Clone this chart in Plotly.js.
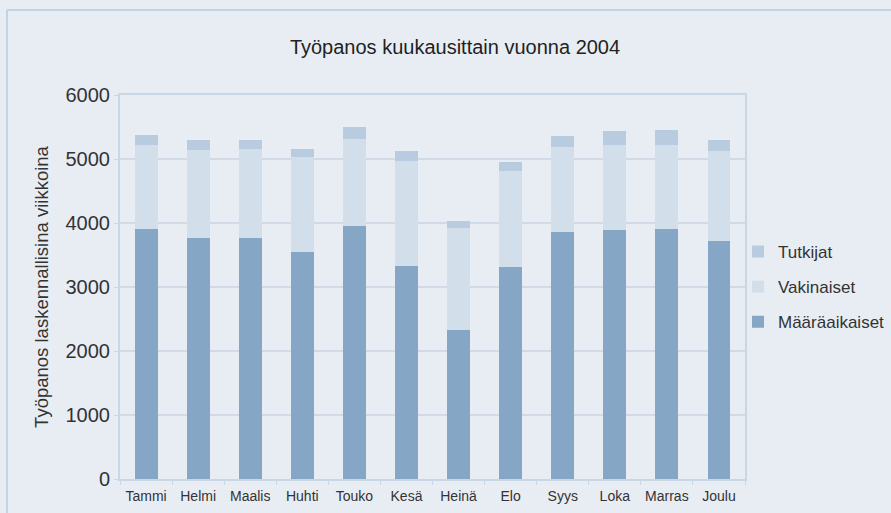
<!DOCTYPE html>
<html>
<head>
<meta charset="utf-8">
<script src="https://cdn.plot.ly/plotly-3.0.1.min.js"></script>
<style>
html,body{margin:0;padding:0;background:#e8edf4;}
#chart{width:891px;height:513px;}
</style>
</head>
<body>
<div id="chart"></div>
<script>
const months = ["Tammi","Helmi","Maalis","Huhti","Touko","Kesä","Heinä","Elo","Syys","Loka","Marras","Joulu"];
const maaraaikaiset = [3900, 3765, 3765, 3545, 3950, 3330, 2330, 3310, 3860, 3890, 3900, 3720];
const vakinaiset   = [1315, 1375, 1390, 1485, 1360, 1640, 1590, 1500, 1330, 1330, 1320, 1405];
const tutkijat     = [155, 155, 140, 125, 190, 155, 110, 140, 170, 220, 235, 170];
const yTicks = [0, 1000, 2000, 3000, 4000, 5000, 6000];

const FONT = "'Liberation Sans', Arial, Helvetica, sans-serif";
const L = 120, R = 745, T = 95, B = 479, W = 891, H = 513;
const px2x = p => (p - L) / (R - L);
const px2y = p => (B - p) / (B - T);

const series = [
  {name: "Määräaikaiset", y: maaraaikaiset, color: "#86a6c6", rank: 3},
  {name: "Vakinaiset", y: vakinaiset, color: "#d2dfeb", rank: 2},
  {name: "Tutkijat", y: tutkijat, color: "#b9cbde", rank: 1}
];
const traces = series.map((s, i) => ({
  type: "bar",
  name: s.name,
  x: months,
  y: s.y,
  legendgroup: "g" + i,
  legendrank: s.rank,
  marker: {color: s.color, line: {width: 0}},
  hoverinfo: "x+y+name"
}));

const layout = {
  width: W, height: H,
  paper_bgcolor: "#e8edf4",
  plot_bgcolor: "#e8edf4",
  margin: {l: L, r: W - R, t: T, b: H - B, pad: 0, autoexpand: false},
  barmode: "stack",
  bargap: 0.56,
  font: {family: FONT, color: "#333333"},
  title: {
    text: "Työpanos kuukausittain vuonna 2004",
    font: {family: FONT, size: 20, color: "#222222"},
    x: 455 / W, xanchor: "center", xref: "container",
    y: 1 - 47 / H, yanchor: "middle", yref: "container"
  },
  xaxis: {
    type: "category",
    categoryorder: "array", categoryarray: months,
    showgrid: false,
    showline: true, linecolor: "#c9d6e4", linewidth: 2,
    mirror: true,
    ticks: "outside", tickson: "boundaries", ticklen: 4, tickcolor: "#c9d6e4", tickwidth: 1,
    tickangle: 0,
    ticklabelstandoff: 3,
    tickfont: {family: FONT, size: 14, color: "#333333"},
    fixedrange: true
  },
  yaxis: {
    range: [0, 6000],
    tickvals: yTicks,
    ticktext: yTicks.map(String),
    showgrid: true, gridcolor: "#d0dbe7", gridwidth: 2,
    zeroline: false,
    showline: true, linecolor: "#c9d6e4", linewidth: 2,
    mirror: true,
    ticks: "outside", ticklen: 4, tickcolor: "#c9d6e4", tickwidth: 1,
    tickfont: {family: FONT, size: 20, color: "#333333"},
    title: {text: "Työpanos laskennallisina viikkoina", font: {family: FONT, size: 18.5, color: "#333333"}, standoff: 12},
    fixedrange: true
  },
  legend: {
    traceorder: "grouped",
    tracegroupgap: 10,
    x: px2x(738), xanchor: "left",
    y: px2y(234), yanchor: "top",
    bgcolor: "rgba(0,0,0,0)",
    font: {family: FONT, size: 17, color: "#333333"},
    itemclick: false, itemdoubleclick: false
  },
  shapes: [
    {type: "line", xref: "paper", yref: "paper", x0: px2x(7), x1: px2x(900), y0: px2y(10), y1: px2y(10), line: {color: "#c3d3e5", width: 2}},
    {type: "line", xref: "paper", yref: "paper", x0: px2x(7), x1: px2x(7), y0: px2y(10), y1: px2y(520), line: {color: "#c3d3e5", width: 2}}
  ],
  showlegend: true
};

Plotly.newPlot("chart", traces, layout, {displayModeBar: false, staticPlot: true});
</script>
</body>
</html>
